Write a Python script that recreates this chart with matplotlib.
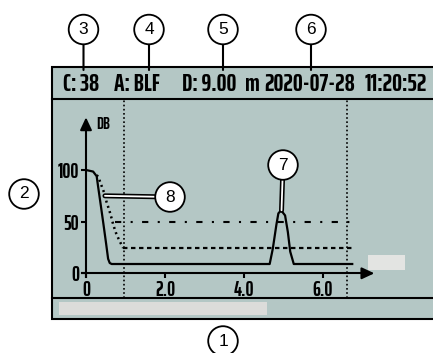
import matplotlib.pyplot as plt
from matplotlib.patches import Rectangle
import matplotlib.patheffects as pe

# echo profile: distance (m) vs level (dB)
echo_x = [0, 0.18, 0.27, 0.31, 0.37, 0.44, 0.51, 0.56, 0.60, 0.65,
          4.65, 4.73, 4.82, 4.87, 4.94, 5.04, 5.11, 5.17, 5.26, 6.74]
echo_y = [100, 98.5, 94, 83, 67, 48, 28.5, 14, 10, 9,
          9, 24, 47, 58, 61, 56, 40, 21, 9, 9]

# TVT curve (dotted descent, dashed plateau)
tvt_x = [0.27, 0.31, 0.42, 0.48, 0.52, 0.59, 0.65, 0.69, 0.76, 0.84, 0.94, 6.74]
tvt_y = [95, 93.5, 82, 76, 69, 61, 53, 47, 39, 32, 24.5, 24.5]
tvt_split = 10

# threshold line
thr_x = [0.73, 6.8]
thr_y = [50, 50]

# cursor markers
marker_x = [0.95, 6.62]

yticks = [0, 50, 100]
ytick_labels = ['0', '50', '100']
xticks = [0, 2, 4, 6]
xtick_labels = ['0', '2.0', '4.0', '6.0']

header = ['C: 38', 'A: BLF', 'D: 9.00', 'm', '2020-07-28', '11:20:52']
header_x = [81, 137, 209, 252.5, 310, 396]

W, H = 433, 353
LCD = '#b4c7c5'
NARROW = ['Saira ExtraCondensed', 'Roboto Condensed', 'DejaVu Sans']

# pixel layout of the display
X0, XS = 86, 39.5      # x=0 position, px per m
Y0, YS = 273.3, 1.033  # y=0 position, px per dB
PL, PR, PT, PB = 52, 433, 99, 298

fig = plt.figure(figsize=(W / 100, H / 100), dpi=100)

frame = fig.add_axes([0, 0, 1, 1])
frame.set_xlim(0, W)
frame.set_ylim(H, 0)
frame.axis('off')
frame.add_patch(Rectangle((52, 67), 400, 252, fc=LCD, ec='black', lw=1.5))
frame.plot([52, W], [98.5, 98.5], color='black', lw=1.5)
frame.plot([52, W], [298, 298], color='black', lw=1.5)
frame.add_patch(Rectangle((59, 302), 208, 13, fc='#dcdcda', ec='none'))
frame.add_patch(Rectangle((368, 255), 37, 15, fc='#e3e4e2', ec='none'))

for t, x in zip(header, header_x):
    frame.text(x, 84, t, ha='center', va='center', fontsize=18,
               family=NARROW, weight='bold')

ax = fig.add_axes([PL / W, (H - PB) / H, (PR - PL) / W, (PB - PT) / H])
ax.patch.set_alpha(0)
ax.set_xlim((PL - X0) / XS, (PR - X0) / XS)
ax.set_ylim((Y0 - PB) / YS, (Y0 - PT) / YS)

for v in marker_x:
    ax.axvline(v, color='black', lw=1.2, ls=(0, (1, 1.5)))

ax.plot(thr_x, thr_y, color='black', lw=1.5, ls=(0, (3, 4.5, 1, 4.5)))
ax.plot(tvt_x[:tvt_split + 1], tvt_y[:tvt_split + 1], color='black', lw=1.8,
        ls=(0, (0.8, 1.4)))
ax.plot(tvt_x[tvt_split:], tvt_y[tvt_split:], color='black', lw=1.6,
        ls=(0, (2, 1.6)))
ax.plot(echo_x, echo_y, color='black', lw=1.6)

# axes with arrow heads
for s in ['top', 'right']:
    ax.spines[s].set_visible(False)
ax.spines['left'].set_position(('data', 0))
ax.spines['bottom'].set_position(('data', 0))
ax.spines['left'].set_bounds(-3.3, 142)
ax.spines['bottom'].set_bounds(-0.11, 7.05)
for s in ['left', 'bottom']:
    ax.spines[s].set_linewidth(1.5)
ax.annotate('', xy=(0, 151), xytext=(0, 140),
            arrowprops=dict(arrowstyle='-|>,head_length=0.75,head_width=0.35',
                            color='black', lw=1.5, mutation_scale=10,
                            shrinkA=0, shrinkB=0))
ax.annotate('', xy=(7.3, 0), xytext=(7.0, 0),
            arrowprops=dict(arrowstyle='-|>,head_length=0.75,head_width=0.35',
                            color='black', lw=1.5, mutation_scale=10,
                            shrinkA=0, shrinkB=0))
ax.text(0.25, 144.5, 'DB', ha='left', va='center', fontsize=12,
        family=NARROW, weight='bold')

ax.set_yticks(yticks, ytick_labels)
ax.set_xticks(xticks, xtick_labels)
ax.tick_params(direction='out', length=3.5, width=1.5, pad=1.5, labelsize=14.5)
for lab in ax.get_xticklabels() + ax.get_yticklabels():
    lab.set_family(NARROW)
    lab.set_weight('bold')

# numbered callouts
circ = dict(boxstyle='circle,pad=0.42', fc='white', ec='black', lw=1.3)
plain = dict(arrowstyle='-', color='black', lw=1.5, shrinkA=0, shrinkB=0)
hollow = dict(arrowstyle='-', color='white', lw=1.3, shrinkA=0, shrinkB=0,
              path_effects=[pe.Stroke(linewidth=3.6, foreground='black'), pe.Normal()])

callouts = [('1', (223, 341), None, None),
            ('2', (24, 194), None, None),
            ('3', (83.5, 29.5), (83.5, 70), 'px'),
            ('4', (149, 29.5), (149, 70), 'px'),
            ('5', (223, 29.5), (223, 70), 'px'),
            ('6', (311, 29.5), (311, 70), 'px'),
            ('7', (283, 165), (4.95, 61), 'data'),
            ('8', (170, 197), (0.48, 75), 'data')]

for num, (cx, cy), target, kind in callouts:
    pos = (cx, H - cy)
    if target is None:
        ax.annotate(num, xy=pos, xycoords='figure pixels', ha='center',
                    va='center', fontsize=12.5, family='Liberation Sans',
                    bbox=circ)
    elif kind == 'px':
        ax.annotate(num, xy=(target[0], H - target[1]), xycoords='figure pixels',
                    xytext=pos, textcoords='figure pixels', ha='center',
                    va='center', fontsize=12.5, family='Liberation Sans',
                    bbox=circ, arrowprops=plain, annotation_clip=False)
    else:
        ax.annotate(num, xy=target, xycoords='data',
                    xytext=pos, textcoords='figure pixels', ha='center',
                    va='center', fontsize=12.5, family='Liberation Sans',
                    bbox=circ, arrowprops=hollow, annotation_clip=False)

fig.savefig('out.png', dpi=100)
